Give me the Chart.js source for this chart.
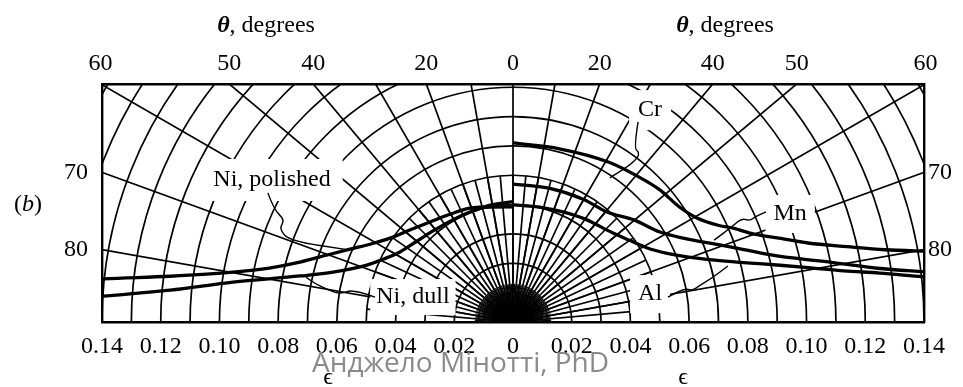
<!DOCTYPE html>
<html>
<head>
<meta charset="utf-8">
<title>Directional emissivity of metals</title>
<script src="https://cdn.jsdelivr.net/npm/chart.js@4.4.1/dist/chart.umd.min.js"></script>
<style>
  html, body { margin: 0; padding: 0; background: #fff; }
  #wrap { position: relative; width: 963px; height: 387px; }
</style>
</head>
<body>
<div id="wrap"><canvas id="chart"></canvas></div>
<script>
// Emissivity range on each side of the surface normal, and frame height in the same units
const EPS_MAX = 0.14;
const Y_MAX = 0.0811;

// Tick labels
const epsTicks = [-0.14, -0.12, -0.10, -0.08, -0.06, -0.04, -0.02, 0, 0.02, 0.04, 0.06, 0.08, 0.10, 0.12, 0.14];
const thetaTopTicks = [-60, -50, -40, -20, 0, 20, 40, 50, 60];
const thetaSideTicks = [70, 80];

// Directional emissivity: angle from the normal (degrees) and emissivity
const crTheta = [0, 15, 31, 40, 48, 55, 60.5, 64.9, 66.9, 70, 72.5, 75, 77.3, 79, 80.2, 81.5];
const crEps   = [0.061, 0.0611, 0.0635, 0.0652, 0.0673, 0.0688, 0.072, 0.0775, 0.0815, 0.0875, 0.095, 0.104, 0.1167, 0.129, 0.1418, 0.160];

const mnTheta = [0, 15, 30, 40.5, 50, 58.5, 64, 68.2, 72, 75, 77.1, 79.5, 81.6, 83, 84];
const mnEps   = [0.047, 0.0472, 0.0482, 0.0493, 0.054, 0.0587, 0.065, 0.0723, 0.081, 0.0895, 0.0978, 0.111, 0.1254, 0.1407, 0.155];

const alTheta = [0, 15, 24.4, 35, 48.3, 55, 61.1, 66, 69.5, 73, 75.8, 78, 79.8, 81.2, 82.4, 83.7, 84.5];
const alEps   = [0.0399, 0.0403, 0.0412, 0.0428, 0.0456, 0.0485, 0.0522, 0.0575, 0.0633, 0.072, 0.0822, 0.093, 0.1038, 0.114, 0.126, 0.1405, 0.152];

const niPolTheta = [0, 10, 20.7, 30, 39.7, 48, 55.7, 61, 65.9, 70, 74.3, 77.5, 79.9, 82.4, 84, 85];
const niPolEps   = [0.0392, 0.0398, 0.0415, 0.0425, 0.0443, 0.047, 0.0507, 0.055, 0.0608, 0.067, 0.0754, 0.085, 0.0969, 0.1179, 0.1404, 0.156];

const niDullTheta = [0, 12.7, 26.8, 41.3, 50, 58.2, 64, 68.7, 74.5, 77.8, 81.9, 84.7, 86.4, 87];
const niDullEps   = [0.041, 0.0405, 0.0403, 0.0413, 0.0428, 0.0453, 0.049, 0.0534, 0.0636, 0.0742, 0.0963, 0.1173, 0.140, 0.150];

const DEG = Math.PI / 180;
// side: +1 draws on the right half, -1 on the left half
function polarPoints(side, thetas, eps) {
  return thetas.map((t, i) => ({ x: side * eps[i] * Math.sin(t * DEG), y: eps[i] * Math.cos(t * DEG) }));
}

const series = [
  { name: 'Cr', side: 1, theta: crTheta, eps: crEps },
  { name: 'Mn', side: 1, theta: mnTheta, eps: mnEps },
  { name: 'Al', side: 1, theta: alTheta, eps: alEps },
  { name: 'Ni, polished', side: -1, theta: niPolTheta, eps: niPolEps },
  { name: 'Ni, dull', side: -1, theta: niDullTheta, eps: niDullEps }
];

// Curve labels with their leader lines (data units)
const callouts = [
  { text: 'Cr', at: [0.0467, 0.0722], padX: 9, padY: 9,
    lead: [[0.0426, 0.0682], [0.0412, 0.0593], [0.0429, 0.0579], [0.0426, 0.0562], [0.0399, 0.0535], [0.0330, 0.0491]] },
  { text: 'Mn', at: [0.0944, 0.0368], padX: 8, padY: 8,
    lead: [[0.0862, 0.0375], [0.0828, 0.0361], [0.0807, 0.0344], [0.0780, 0.0354], [0.0749, 0.0327], [0.0685, 0.0279]] },
  { text: 'Al', at: [0.0467, 0.0095], padX: 8, padY: 8,
    lead: [[0.0528, 0.0085], [0.0582, 0.0116], [0.0610, 0.0106], [0.0634, 0.0123], [0.0678, 0.0150], [0.0732, 0.0191]] },
  { text: 'Ni, polished', at: [-0.0821, 0.0484], padX: 12, padY: 10,
    lead: [[-0.0835, 0.0440], [-0.0814, 0.0382], [-0.0777, 0.0348], [-0.0797, 0.0317], [-0.0760, 0.0276], [-0.0555, 0.0245]] },
  { text: 'Ni, dull', at: [-0.0341, 0.0085], padX: 6, padY: 7,
    lead: [[-0.0470, 0.0085], [-0.0545, 0.0112], [-0.0586, 0.0095], [-0.0630, 0.0109], [-0.0678, 0.0133], [-0.0705, 0.0153]] }
];

const SERIF = "'Liberation Serif', 'Times New Roman', 'DejaVu Serif', serif";
const INK = '#000';

function fmtEps(v) { return Math.abs(v) < 1e-9 ? '0' : Math.abs(v).toFixed(2); }

// Polar grid: emissivity circles every 0.01 and spokes from the normal
const polarGrid = {
  id: 'polarGrid',
  beforeDatasetsDraw(chart) {
    const { ctx, chartArea: a, scales: { x, y } } = chart;
    const cx = x.getPixelForValue(0), cy = y.getPixelForValue(0);
    const P = (e, t) => [x.getPixelForValue(e * Math.sin(t * DEG)), y.getPixelForValue(e * Math.cos(t * DEG))];

    ctx.save();
    ctx.beginPath();
    ctx.rect(a.left, a.top, a.right - a.left, a.bottom - a.top);
    ctx.clip();
    ctx.strokeStyle = INK;
    ctx.lineWidth = 1.7;

    for (let k = 1; k <= 17; k++) {
      const e = k * 0.01;
      const rx = x.getPixelForValue(e) - cx;
      const ry = cy - y.getPixelForValue(e);
      ctx.beginPath();
      ctx.ellipse(cx, cy, rx, ry, 0, Math.PI, 2 * Math.PI);
      ctx.stroke();
    }

    const spokes = (step, reach) => {
      for (let t = -90 + step; t < 90 - 1e-6; t += step) {
        const [px, py] = P(reach, t);
        ctx.beginPath();
        ctx.moveTo(cx, cy);
        ctx.lineTo(px, py);
        ctx.stroke();
      }
    };
    spokes(10, 0.3);
    spokes(5, 0.05);
    ctx.lineWidth = 1.2;
    spokes(2.5, 0.013);
    spokes(1, 0.006);

    // clear space behind the curve labels
    ctx.font = '24px ' + SERIF;
    callouts.forEach(c => {
      const px = x.getPixelForValue(c.at[0]), py = y.getPixelForValue(c.at[1]);
      const w = ctx.measureText(c.text).width;
      ctx.fillStyle = '#fff';
      ctx.fillRect(px - w / 2 - c.padX, py - 11 - c.padY, w + 2 * c.padX, 22 + 2 * c.padY);
    });

    // labels and leader lines
    ctx.fillStyle = INK;
    ctx.textAlign = 'center';
    ctx.textBaseline = 'middle';
    callouts.forEach(c => {
      const px = x.getPixelForValue(c.at[0]), py = y.getPixelForValue(c.at[1]);
      ctx.fillText(c.text, px, py);
      const pts = c.lead.map(p => [x.getPixelForValue(p[0]), y.getPixelForValue(p[1])]);
      ctx.lineWidth = 1.4;
      ctx.beginPath();
      ctx.moveTo(pts[0][0], pts[0][1]);
      for (let i = 1; i < pts.length - 1; i++) {
        const mx = (pts[i][0] + pts[i + 1][0]) / 2, my = (pts[i][1] + pts[i + 1][1]) / 2;
        ctx.quadraticCurveTo(pts[i][0], pts[i][1], mx, my);
      }
      const last = pts[pts.length - 1];
      ctx.lineTo(last[0], last[1]);
      ctx.stroke();
    });
    ctx.restore();
  },
  afterDraw(chart) {
    const { ctx } = chart;
    ctx.save();
    ctx.fillStyle = INK;
    ctx.textBaseline = 'alphabetic';
    ctx.textAlign = 'left';

    // axis titles above the frame
    const theta = (cxm, base) => {
      ctx.font = 'italic bold 24px ' + SERIF;
      const w1 = ctx.measureText('\u03B8').width;
      ctx.font = '24px ' + SERIF;
      const w2 = ctx.measureText(', degrees').width;
      const x0 = cxm - (w1 + w2) / 2;
      ctx.font = 'italic bold 24px ' + SERIF;
      ctx.fillText('\u03B8', x0, base);
      ctx.font = '24px ' + SERIF;
      ctx.fillText(', degrees', x0 + w1, base);
    };
    theta(266, 32);
    theta(725, 32);

    // panel tag
    ctx.font = '24px ' + SERIF;
    ctx.fillText('(', 14, 211);
    let wx = 14 + ctx.measureText('(').width;
    ctx.font = 'italic 24px ' + SERIF;
    ctx.fillText('b', wx, 211);
    wx += ctx.measureText('b').width;
    ctx.font = '24px ' + SERIF;
    ctx.fillText(')', wx, 211);

    // author credit
    ctx.font = '28px "Open Sans", sans-serif';
    ctx.fillStyle = '#8a8a8a';
    ctx.fillText('Анджело Мінотті, PhD', 312, 372);

    // emissivity axis symbols
    ctx.fillStyle = INK;
    ctx.font = '24px ' + SERIF;
    ctx.textAlign = 'center';
    ctx.fillText('\u03F5', 328, 384);
    ctx.fillText('\u03F5', 683, 384);
    ctx.restore();
  }
};

const tickFont = { family: SERIF, size: 24 };
const frame = { display: true, color: INK, width: 2.4 };
const noGrid = { display: false, drawTicks: false, tickLength: 0 };

new Chart(document.getElementById('chart'), {
  type: 'line',
  data: {
    datasets: series.map(s => ({
      label: s.name,
      data: polarPoints(s.side, s.theta, s.eps),
      borderColor: INK,
      borderWidth: 3.3,
      pointRadius: 0,
      cubicInterpolationMode: 'monotone',
      fill: false,
      clip: 0
    }))
  },
  options: {
    responsive: true,
    maintainAspectRatio: false,
    devicePixelRatio: 1,
    animation: false,
    events: [],
    layout: { padding: 0 },
    plugins: { legend: { display: false }, tooltip: { enabled: false } },
    scales: {
      x: {
        type: 'linear', position: 'bottom', min: -EPS_MAX, max: EPS_MAX,
        afterBuildTicks: s => { s.ticks = epsTicks.map(v => ({ value: v })); },
        afterFit: s => { s.height = 65; },
        grid: noGrid, border: frame,
        ticks: { callback: v => fmtEps(v), font: tickFont, color: INK, padding: 10, autoSkip: false, maxRotation: 0, minRotation: 0 }
      },
      xTop: {
        type: 'linear', position: 'top', min: -EPS_MAX, max: EPS_MAX,
        afterBuildTicks: s => { s.ticks = thetaTopTicks.map(t => ({ value: Y_MAX * Math.tan(t * DEG) })); },
        afterFit: s => { s.height = 84; },
        grid: noGrid, border: frame,
        ticks: { callback: (v, i) => String(Math.abs(thetaTopTicks[i])), font: tickFont, color: INK, padding: 6, autoSkip: false, maxRotation: 0, minRotation: 0 }
      },
      y: {
        type: 'linear', position: 'left', min: 0, max: Y_MAX,
        afterBuildTicks: s => { s.ticks = thetaSideTicks.map(t => ({ value: EPS_MAX / Math.tan(t * DEG) })); },
        afterFit: s => { s.width = 102; },
        grid: noGrid, border: frame,
        ticks: { callback: (v, i) => String(thetaSideTicks[i]), font: tickFont, color: INK, padding: 14, autoSkip: false }
      },
      y2: {
        type: 'linear', position: 'right', min: 0, max: Y_MAX,
        afterBuildTicks: s => { s.ticks = thetaSideTicks.map(t => ({ value: EPS_MAX / Math.tan(t * DEG) })); },
        afterFit: s => { s.width = 39; },
        grid: noGrid, border: frame,
        ticks: { callback: (v, i) => String(thetaSideTicks[i]), font: tickFont, color: INK, padding: 4, autoSkip: false }
      }
    }
  },
  plugins: [polarGrid]
});
</script>
</body>
</html>
